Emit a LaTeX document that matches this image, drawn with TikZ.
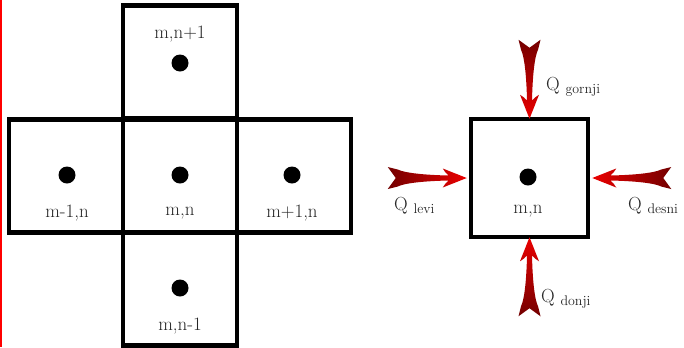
\documentclass[tikz,border=0pt]{standalone}
\begin{document}
\begin{tikzpicture}[x=1bp,y=-1bp,
  cell/.style={draw=black, line width=4.5bp, minimum width=114bp, minimum height=113bp, inner sep=0pt},
  dotn/.style={circle, fill=black, minimum size=17bp, inner sep=0pt},
  lbl/.style={font=\fontsize{19}{22}\selectfont, text=black!85, inner sep=0pt, anchor=base},
  qlbl/.style={font=\fontsize{19}{22}\selectfont, text=black!85, inner sep=0pt, anchor=base west},
  pics/qarrow/.style={code={
    \path[pic actions] (0,0) -- (-24,-9.5) .. controls (-21,-5) .. (-18,-2.5)
      .. controls (-42,-3) and (-62,-5) .. (-69,-8.5) -- (-79,-11) -- (-71,0) -- (-79,11) -- (-69,8.5)
      .. controls (-62,5) and (-42,3) .. (-18,2.5) .. controls (-21,5) .. (-24,9.5) -- cycle;
  }}]
\definecolor{tailred}{RGB}{115,0,0}
\definecolor{midred}{RGB}{200,0,0}
\definecolor{headred}{RGB}{235,0,0}
\newcommand{\qsub}[1]{Q~\raisebox{-3.5bp}{\fontsize{14}{16}\selectfont #1}}
\useasboundingbox (0,0) rectangle (684,347);
\fill[white] (0,0) rectangle (684,347);
\draw[red, line width=2bp] (1,0) -- (1,347);

% left cross
\node[cell] (top) at (180,62) {};
\node[cell] (left) at (66,176) {};
\node[cell] (mid) at (180,176) {};
\node[cell] (right) at (294,176) {};
\node[cell] (bot) at (180,289) {};

\node[dotn] (dtop) at (180,63) {};
\node[dotn] (dleft) at (67,175) {};
\node[dotn] (dmid) at (180,175) {};
\node[dotn] (dright) at (292,175) {};
\node[dotn] (dbot) at (180,288) {};

\node[lbl] (ltop) at (180,38) {m,n+1};
\node[lbl] (lleft) at (67,217) {m-1,n};
\node[lbl] (lmid) at (180,215) {m,n};
\node[lbl] (lright) at (292,217) {m+1,n};
\node[lbl] (lbot) at (180,330) {m,n-1};

% right cell
\node[cell, minimum width=117bp, minimum height=118bp] (c) at (529.5,178) {};
\node[dotn] (dc) at (528,177) {};
\node[lbl] (lc) at (528,213) {m,n};

% arrows
\pic[left color=tailred, middle color=midred, right color=headred] at ([xshift=-2bp]c.west) {qarrow};
\pic[rotate=180, left color=headred, middle color=midred, right color=tailred] at ([xshift=2bp]c.east) {qarrow};
\pic[rotate=-90, top color=tailred, middle color=midred, bottom color=headred] at ([yshift=-2bp]c.north) {qarrow};
\pic[rotate=90, top color=headred, middle color=midred, bottom color=tailred] at ([yshift=2bp]c.south) {qarrow};

\node[qlbl] (qg) at (546,90) {\qsub{gornji}};
\node[qlbl] (ql) at (394,210) {\qsub{levi}};
\node[qlbl] (qd) at (628,210) {\qsub{desni}};
\node[qlbl] (qdo) at (541,302) {\qsub{donji}};
\end{tikzpicture}
\end{document}
